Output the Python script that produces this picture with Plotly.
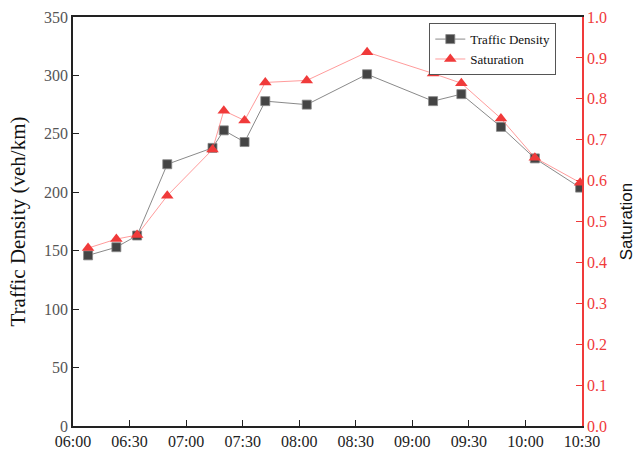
import plotly.graph_objects as go

times = ["06:08", "06:23", "06:34", "06:50", "07:14", "07:20", "07:31", "07:42",
         "08:04", "08:36", "09:11", "09:26", "09:47", "10:05", "10:29"]
density = [146, 153, 163, 224, 238, 253, 243, 278, 275, 301, 278, 284, 256, 229, 204]
saturation = [0.435, 0.457, 0.467, 0.563, 0.676, 0.771, 0.747, 0.84, 0.845, 0.914,
              0.862, 0.838, 0.752, 0.656, 0.595]
x = ["2024-01-01 " + t for t in times]

font = "Liberation Serif, Times New Roman, serif"
sans = "Liberation Sans, Arial, sans-serif"
red = "#f03a3a"

fig = go.Figure()
fig.add_trace(go.Scatter(
    x=x, y=density, name="Traffic Density", mode="lines+markers",
    line=dict(color="#6b6b6b", width=0.8),
    marker=dict(symbol="square", size=9, color="#444444",
                line=dict(color="#888888", width=0.8)),
    yaxis="y"))
fig.add_trace(go.Scatter(
    x=x, y=saturation, name="Saturation", mode="lines+markers",
    line=dict(color="#ff7070", width=0.7),
    marker=dict(symbol="triangle-up", size=11, color=red),
    yaxis="y2"))

fig.update_layout(
    width=636, height=456,
    margin=dict(l=73, r=54, t=17, b=30),
    plot_bgcolor="white", paper_bgcolor="white",
    font=dict(family=font, size=16, color="#333333"),
    showlegend=True,
    legend=dict(x=0.70, y=0.985, xanchor="left", yanchor="top",
                bgcolor="white", bordercolor="#555555", borderwidth=1,
                font=dict(family=font, size=13, color="#111111"),
                tracegroupgap=0, itemwidth=30),
    xaxis=dict(type="date",
               range=["2024-01-01 06:00", "2024-01-01 10:30"],
               dtick=1800000, tickformat="%H:%M",
               showline=True, linecolor="#222222", linewidth=1.5, mirror=True,
               ticks="inside", ticklen=6, tickcolor="#222222",
               showgrid=False, zeroline=False, automargin=False,
               tickfont=dict(family=font, size=16, color="#222222")),
    yaxis=dict(range=[0, 350], dtick=50,
               title=dict(text="Traffic Density (veh/km)",
                          font=dict(family=font, size=21, color="#111111"),
                          standoff=13),
               showline=True, linecolor="#222222", linewidth=1.5,
               ticks="inside", ticklen=6, tickcolor="#222222",
               showgrid=False, zeroline=False, automargin=False,
               tickfont=dict(family=font, size=16, color="#555555")),
    yaxis2=dict(range=[0, 1.0], dtick=0.1, tickformat=".1f",
                overlaying="y", side="right",
                title=dict(text="Saturation",
                           font=dict(family=sans, size=17, color="#111111"),
                           standoff=16),
                showline=True, linecolor=red, linewidth=1.5,
                ticks="inside", ticklen=6, tickcolor=red,
                showgrid=False, zeroline=False, automargin=False,
                tickfont=dict(family=font, size=16, color=red)),
)

fig.write_html("out.html")
